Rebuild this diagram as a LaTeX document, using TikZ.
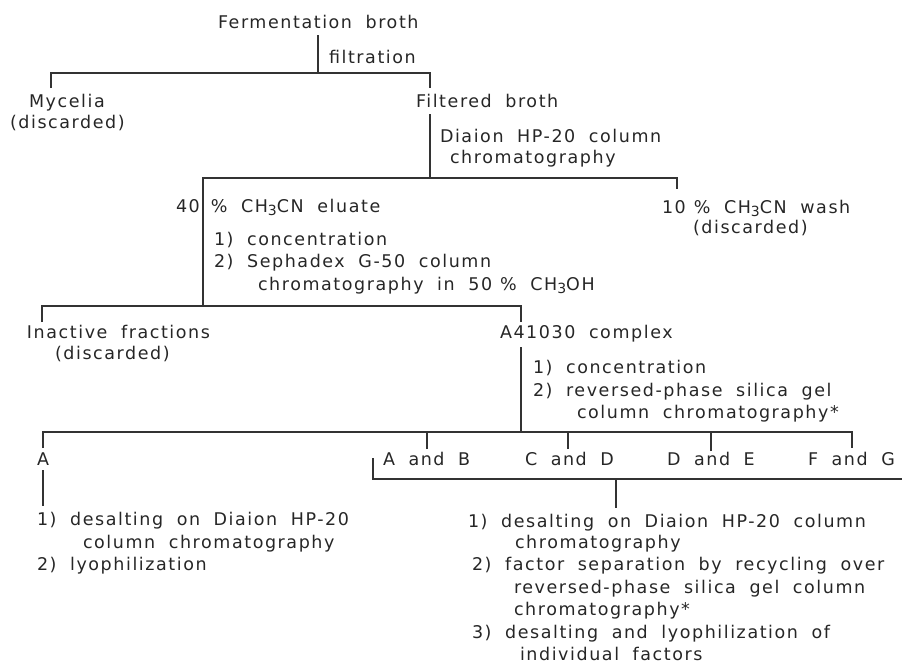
\documentclass[tikz,border=0pt]{standalone}
\usepackage{fontspec}
\setmainfont{DejaVu Sans}[LetterSpace=9,WordSpace=1.9]
\newcommand\lowsub[1]{\raisebox{-0.35ex}{\fontsize{14}{14}\selectfont #1}}
\newcommand\pcgap[1]{\hspace{#1}\%}
\begin{document}
\begin{tikzpicture}[x=1pt,y=-1pt,
  txt/.style={anchor=base west,inner sep=0pt,outer sep=0pt,text=black!85,font=\fontsize{17.5}{20}\selectfont},
  ln/.style={draw=black!80,line width=1.4pt}]
\useasboundingbox (0,0) rectangle (902,664);
% ---- texts
\node[txt] (fb) at (218,28) {Fermentation broth};
\node[txt] (filt) at (329,63) {filtration};
\node[txt] (myc1) at (29,107) {Mycelia};
\node[txt] (myc2) at (10,128) {(discarded)};
\node[txt] (fbr) at (416,107) {Filtered broth};
\node[txt] (dia1) at (440,142) {Diaion HP-20 column};
\node[txt] (dia2) at (450,163) {chromatography};
\node[txt] (el) at (176,212) {40\pcgap{11pt} CH\lowsub{3}CN eluate};
\node[txt] (wash1) at (662,213) {10\pcgap{8pt} CH\lowsub{3}CN wash};
\node[txt] (wash2) at (693,233) {(discarded)};
\node[txt] (s1) at (214,245) {1) concentration};
\node[txt] (s2) at (214,267) {2) Sephadex G-50 column};
\node[txt] (s3) at (258,290) {chromatography in 50\pcgap{8pt} CH\lowsub{3}OH};
\node[txt] (ina1) at (27,338) {Inactive fractions};
\node[txt] (ina2) at (55,359) {(discarded)};
\node[txt] (cx) at (500,338) {A41030 complex};
\node[txt] (r1) at (533,373) {1) concentration};
\node[txt] (r2) at (533,396) {2) reversed-phase silica gel};
\node[txt] (r3) at (577,418) {column chromatography*};
\node[txt] (fa) at (37,465) {A};
\node[txt] (fab) at (383,465) {A and B};
\node[txt] (fcd) at (525,465) {C and D};
\node[txt] (fde) at (667,465) {D and E};
\node[txt] (ffg) at (808,465) {F and G};
\node[txt] (la1) at (37,525) {1) desalting on Diaion HP-20};
\node[txt] (la2) at (83,548) {column chromatography};
\node[txt] (la3) at (37,570) {2) lyophilization};
\node[txt] (ra1) at (468,527) {1) desalting on Diaion HP-20 column};
\node[txt] (ra2) at (515,548) {chromatography};
\node[txt] (ra3) at (472,570) {2) factor separation by recycling over};
\node[txt] (ra4) at (514,593) {reversed-phase silica gel column};
\node[txt] (ra5) at (514,615) {chromatography*};
\node[txt] (ra6) at (472,638) {3) desalting and lyophilization of};
\node[txt] (ra7) at (520,660) {individual factors};
% ---- junction coordinates
\coordinate (a1) at (318,35);
\coordinate (a2) at (318,73);
\coordinate (a3) at (51,88);
\coordinate (a4) at (430,88);
\coordinate (b1) at (430,114);
\coordinate (b2) at (430,178);
\coordinate (b3) at (203,306);
\coordinate (b4) at (677,189);
\coordinate (c1) at (42,322);
\coordinate (c2) at (521,322);
\coordinate (d1) at (521,347);
\coordinate (d2) at (521,432);
\coordinate (e1) at (43,448);
\coordinate (e2) at (427,449);
\coordinate (e3) at (568,449);
\coordinate (e4) at (711,451);
\coordinate (e5) at (852,448);
\coordinate (g1) at (43,470);
\coordinate (g2) at (43,506);
\coordinate (f1) at (373,458);
\coordinate (f2) at (902,479);
\coordinate (f3) at (616,479);
\coordinate (f4) at (616,508);
% ---- connectors
\draw[ln] (a1) -- (a2);
\draw[ln] (a3) |- (a2) -| (a4);
\draw[ln] (b1) -- (b2);
\draw[ln] (b3) |- (b2) -| (b4);
\draw[ln] (c1) |- (b3) -| (c2);
\draw[ln] (d1) -- (d2);
\draw[ln] (e1) |- (d2) -| (e5);
\draw[ln] (e2) -- (e2 |- d2);
\draw[ln] (e3) -- (e3 |- d2);
\draw[ln] (e4) -- (e4 |- d2);
\draw[ln] (g1) -- (g2);
\draw[ln] (f1) |- (f2);
\draw[ln] (f3) -- (f4);
\end{tikzpicture}
\end{document}
